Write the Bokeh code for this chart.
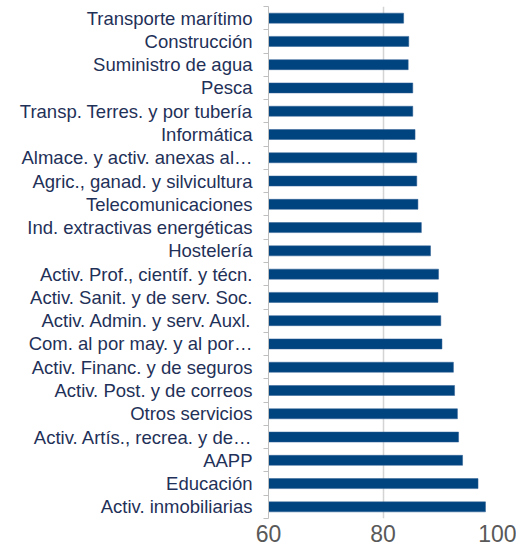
from bokeh.plotting import figure
from bokeh.models import FixedTicker, Range1d
from bokeh.embed import file_html
from bokeh.resources import INLINE

categories = [
    "Transporte marítimo",
    "Construcción",
    "Suministro de agua",
    "Pesca",
    "Transp. Terres. y por tubería",
    "Informática",
    "Almace. y activ. anexas al…",
    "Agric., ganad. y silvicultura",
    "Telecomunicaciones",
    "Ind. extractivas energéticas",
    "Hostelería",
    "Activ. Prof., científ. y técn.",
    "Activ. Sanit. y de serv. Soc.",
    "Activ. Admin. y serv. Auxl.",
    "Com. al por may. y al por…",
    "Activ. Financ. y de seguros",
    "Activ. Post. y de correos",
    "Otros servicios",
    "Activ. Artís., recrea. y de…",
    "AAPP",
    "Educación",
    "Activ. inmobiliarias",
]
values = [83.6, 84.5, 84.4, 85.2, 85.2, 85.6, 85.9, 85.9, 86.1, 86.7, 88.3,
          89.7, 89.6, 90.1, 90.3, 92.3, 92.5, 93.0, 93.2, 93.9, 96.6, 97.9]
x_ticks = [60, 80, 100]
x_min, x_max = 60, 100

n = len(categories)
ypos = [n - i for i in range(n)]  # top to bottom
boundaries = [k + 0.5 for k in range(0, n + 1)]

p = figure(width=516, height=552, output_backend="svg", toolbar_location=None,
           x_range=Range1d(x_min, x_max), y_range=Range1d(0.5, n + 0.5),
           min_border_left=268, min_border_right=19, min_border_top=6,
           min_border_bottom=34)
p.outline_line_color = None
p.background_fill_color = "white"
p.border_fill_color = "white"

p.hbar(y=ypos, right=values, left=x_min, height=0.43, color="#00447F",
       line_color="#2F5F95", line_width=0.5)

# x axis
p.xaxis.ticker = FixedTicker(ticks=x_ticks)
p.xaxis.axis_line_color = None
p.xaxis.major_tick_line_color = None
p.xaxis.minor_tick_line_color = None
p.xaxis.major_tick_out = 0
p.xaxis.major_tick_in = 0
p.xaxis.major_label_standoff = 6
p.xaxis.major_label_text_font = "Liberation Sans"
p.xaxis.major_label_text_font_size = "23px"
p.xaxis.major_label_text_color = "#595959"

p.xgrid.ticker = FixedTicker(ticks=x_ticks)
p.xgrid.grid_line_color = "#D4D4D4"
p.xgrid.grid_line_width = 1.5
p.ygrid.grid_line_color = None

# y axis
p.yaxis.ticker = FixedTicker(ticks=ypos, minor_ticks=boundaries)
p.yaxis.major_label_overrides = {y: c for y, c in zip(ypos, categories)}
p.yaxis.axis_line_color = "#BFBFBF"
p.yaxis.axis_line_width = 1
p.yaxis.major_tick_line_color = None
p.yaxis.major_tick_out = 5
p.yaxis.major_tick_in = 0
p.yaxis.minor_tick_line_color = "#BFBFBF"
p.yaxis.minor_tick_out = 5
p.yaxis.minor_tick_in = 0
p.yaxis.major_label_standoff = 11
p.yaxis.major_label_text_font = "Liberation Sans"
p.yaxis.major_label_text_font_size = "18.5px"
p.yaxis.major_label_text_color = "#1F3158"

open("out.html", "w").write(file_html(p, INLINE))
